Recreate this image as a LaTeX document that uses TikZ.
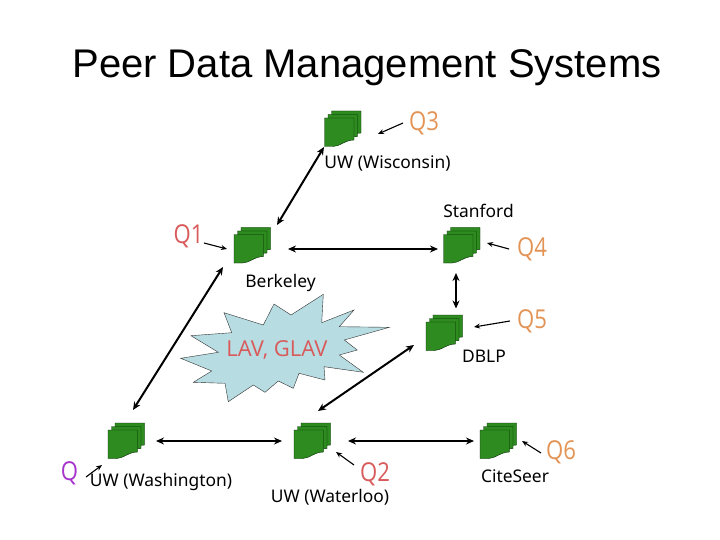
\documentclass[tikz,border=0pt]{standalone}
\usepackage{fontspec}
\setmainfont{Liberation Sans}
\newfontfamily\labelfont{Noto Sans}
\newfontfamily\burstfont{Open Sans}
\newfontfamily\queryfont[FakeStretch=0.85]{Open Sans}
\usetikzlibrary{arrows.meta}
\definecolor{peergreen}{HTML}{2E8B1F}
\definecolor{burstblue}{HTML}{B7DCE2}
\definecolor{queryorange}{HTML}{E39455}
\definecolor{queryred}{HTML}{D95A5A}
\definecolor{querypurple}{HTML}{A533CC}
\tikzset{
    % Define standard arrow tip
    >={Stealth[length=8pt,width=7pt]},
    % Define style for the stacked pages
    page/.style={
           fill=peergreen,
           draw=black!85!green, thin},
    peer/.style={
           rectangle,
           inner sep=0pt,
           minimum width=39,
           minimum height=38,
           path picture={
             \begin{scope}[shift={(path picture bounding box.center)}]
             \draw[page] (-11.5,-18) -- (18,-18) -- (18,4) .. controls (9,4) and (4,10.5) .. (-3,10.5) -- (-11.5,10.5) -- cycle;
             \draw[page] (-15,-14.5) -- (14.5,-14.5) -- (14.5,7.5) .. controls (5.5,7.5) and (0.5,14) .. (-6.5,14) -- (-15,14) -- cycle;
             \draw[page] (-18.5,-11) -- (11,-11) -- (11,11) .. controls (2,11) and (-3,17.5) .. (-10,17.5) -- (-18.5,17.5) -- cycle;
             \end{scope}
           }},
    site/.style={
           font=\labelfont\fontsize{17.4}{17.4}\selectfont,
           inner sep=0pt},
    query/.style={
           font=\queryfont\fontsize{26}{26}\selectfont,
           text=queryorange,
           inner sep=0pt},
    % Define arrow styles
    link/.style={<->, line width=2pt},
    ask/.style={->, line width=1.1pt, >={Stealth[length=6pt,width=5pt]}}
}
\begin{document}
\begin{tikzpicture}[x=1pt,y=-1pt]
  \useasboundingbox[fill=white] (0,0) rectangle (720,540);
  \node[font=\fontsize{40}{40}\selectfont,inner sep=0pt] (title) at (367,68) {Peer Data Management Systems};

  % burst
  \draw[fill=burstblue,draw=black!80,thin] (323.3,294.3) -- (321.7,322.7) -- (354,310) -- (339.3,326.7)
    -- (389.3,327.3) -- (344.3,340) -- (357.3,350) -- (339.3,355) -- (363.3,372.3) -- (324,366.7)
    -- (325,380) -- (299,373.3) -- (293.3,388.3) -- (278.3,381) -- (265,392.3) -- (253.3,385)
    -- (228.3,401.7) -- (225,383.3) -- (193.3,382.3) -- (211.7,371) -- (180.7,358.3) -- (218.3,352.3)
    -- (191,335.7) -- (231.7,332.7) -- (224,312.7) -- (263.3,325) -- (274,304) -- (291,315) -- cycle;
  \node[font=\burstfont\fontsize{22}{22}\selectfont,text=queryred,inner sep=0pt] (rules) at (277,350) {LAV, GLAV};

  % peers
  \node[peer] (wisc) at (343,129) {};
  \node[peer] (berk) at (252.5,245.5) {};
  \node[peer] (stan) at (462,245.5) {};
  \node[peer] (dblp) at (444.5,333) {};
  \node[peer] (wash) at (126.5,441) {};
  \node[peer] (wloo) at (312.5,441) {};
  \node[peer] (cite) at (498.5,441) {};

  % names of the peers
  \node[site] (wisc name) at (387.5,163) {UW (Wisconsin)};
  \node[site] (stan name) at (478.5,211) {Stanford};
  \node[site] (berk name) at (280.5,283) {Berkeley};
  \node[site] (dblp name) at (484,356) {DBLP};
  \node[site] (wash name) at (161,482) {UW (Washington)};
  \node[site] (wloo name) at (330,497) {UW (Waterloo)};
  \node[site] (cite name) at (515,476) {CiteSeer};

  % queries
  \node[query] (q3) at (424,123) {Q3};
  \node[query,text=queryred] (q1) at (188.5,236) {Q1};
  \node[query] (q4) at (532,249) {Q4};
  \node[query] (q5) at (532,321) {Q5};
  \node[query,text=querypurple] (q) at (69.5,473) {Q};
  \node[query,text=queryred] (q2) at (375,474) {Q2};
  \node[query] (q6) at (561,452) {Q6};

  % peer mappings
  \draw[link] ([shift={(-19,18)}]wisc.center) -- ([shift={(24.5,-20.5)}]berk.center);
  \draw[link] ([shift={(35.5,3.5)}]berk.center) -- ([shift={(-24,3.5)}]stan.center);
  \draw[link] ([shift={(-6,27.5)}]stan.center) -- ([shift={(11.5,-24.5)}]dblp.center);
  \draw[link] ([shift={(-29.5,21.5)}]berk.center) -- ([shift={(6.5,-31)}]wash.center);
  \draw[link] ([shift={(29.5,0)}]wash.center) -- ([shift={(-30.5,0)}]wloo.center);
  \draw[link] ([shift={(35.5,0)}]wloo.center) -- ([shift={(-24.5,0)}]cite.center);
  \draw[link] ([shift={(5.5,-30)}]wloo.center) -- ([shift={(-30.5,12)}]dblp.center);

  % query arrows
  \draw[ask] ([shift={(-21,0)}]q3.center) -- ([shift={(35,5)}]wisc.center);
  \draw[ask] ([shift={(15.5,7)}]q1.center) -- ([shift={(-25.5,3.5)}]berk.center);
  \draw[ask] ([shift={(-23,0)}]q4.center) -- ([shift={(25,-2.5)}]stan.center);
  \draw[ask] ([shift={(-22,0)}]q5.center) -- ([shift={(29.5,-6)}]dblp.center);
  \draw[ask] ([shift={(16.5,4)}]q.center) -- ([shift={(-24.5,24)}]wash.center);
  \draw[ask] ([shift={(-21,-9)}]q2.center) -- ([shift={(23.5,11)}]wloo.center);
  \draw[ask] ([shift={(-20,1)}]q6.center) -- ([shift={(23.5,0)}]cite.center);
\end{tikzpicture}
\end{document}
